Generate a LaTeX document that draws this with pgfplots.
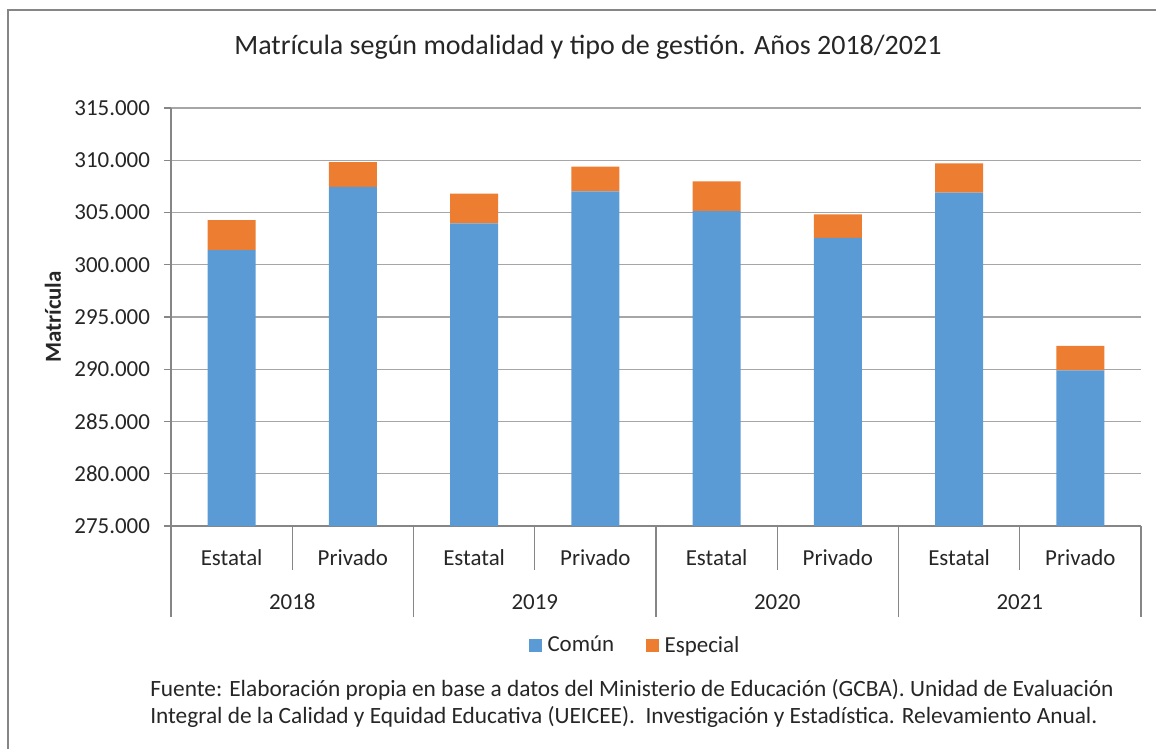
\documentclass[border=0pt]{standalone}
\usepackage{pgfplots}
\pgfplotsset{compat=1.18}
\usepackage{fontspec}
\setmainfont{Carlito}
\definecolor{cblue}{HTML}{5B9BD5}
\definecolor{corange}{HTML}{ED7D31}
\definecolor{gridc}{HTML}{A6A6A6}
\definecolor{axc}{HTML}{868686}
\definecolor{txt}{HTML}{262626}
\begin{document}
\begin{tikzpicture}
\begin{axis}[
  name=ax, at={(0pt,0pt)}, anchor=south west,
  scale only axis, width=727.5pt, height=313.5pt,
  xmin=-0.5, xmax=7.5, ymin=275000, ymax=315000,
  ytick={275000,280000,...,315000},
  xtick={0,...,7},
  xticklabels={Estatal,Privado,Estatal,Privado,Estatal,Privado,Estatal,Privado},
  xticklabel style={anchor=center, yshift=-18.75pt, font=\fontsize{17.2}{20}\selectfont, text=txt},
  yticklabel style={font=\fontsize{17.2}{20}\selectfont, text=txt, xshift=-7pt},
  /pgf/number format/.cd, fixed, 1000 sep={.}, assume math mode=true,
  /pgfplots/.cd,
  scaled y ticks=false,
  axis x line*=bottom, axis y line*=left,
  axis line style={axc, line width=0.9pt, -},
  xtick style={draw=none},
  ytick style={axc, line width=0.9pt},
  tick align=outside, major tick length=5.25pt,
  ymajorgrids, grid style={gridc, line width=0.9pt},
  ybar stacked, bar width=36pt,
  legend style={at={(0.479,-0.285)}, anchor=center, draw=none, legend columns=2,
    font=\fontsize{17.2}{20}\selectfont, text=txt,
    /tikz/every even column/.append style={column sep=22pt}},
  legend image code/.code={\fill[#1] (-1pt,-4.9pt) rectangle (8.8pt,4.9pt);},
]
\addplot[fill=cblue, draw=none] coordinates {(0,301400) (1,307450) (2,303950) (3,307030) (4,305120) (5,302570) (6,306910) (7,289900)};
\addplot[fill=corange, draw=none] coordinates {(0,2870) (1,2360) (2,2860) (3,2370) (4,2870) (5,2240) (6,2800) (7,2330)};
\legend{\hspace{2pt}Común, \hspace{2pt}Especial}
\end{axis}
\begin{scope}[shift={(ax.south west)}, x=0.75pt, y=0.75pt]
\useasboundingbox (-171,-223) rectangle (985,526);
\draw[axc,line width=0.9pt] (-163,-223) -- (-163,516) -- (985,516);
\foreach \xx in {121.25,363.75,606.25,848.75} {\draw[axc,line width=0.9pt] (\xx,0) -- (\xx,-44);}
\foreach \xx in {0,242.5,485,727.5,970} {\draw[axc,line width=0.9pt] (\xx,0) -- (\xx,-91);}
\foreach \xx/\yy in {121.25/2018,363.75/2019,606.25/2020,848.75/2021} {\node[font=\fontsize{17.2}{20}\selectfont, text=txt] at (\xx,-76) {\yy};}
\node[rotate=90, font=\fontsize{17.2}{20}\selectfont\bfseries, text=txt] at (-118,209) {Matrícula};
\node[font=\fontsize{21}{24}\selectfont, text=txt] at (417,479) {Matrícula según modalidad y tipo de gestión. Años 2018/2021};
\node[anchor=west, inner sep=0pt, font=\fontsize{17.5}{20}\selectfont, text=txt] at (-21,-164) {Fuente: Elaboración propia en base a datos del Ministerio de Educación (GCBA). Unidad de Evaluación};
\node[anchor=west, inner sep=0pt, font=\fontsize{17.5}{20}\selectfont, text=txt] at (-21,-191) {Integral de la Calidad y Equidad Educativa (UEICEE).\ \ Investigación y Estadística. Relevamiento Anual.};
\end{scope}
\end{tikzpicture}
\end{document}
